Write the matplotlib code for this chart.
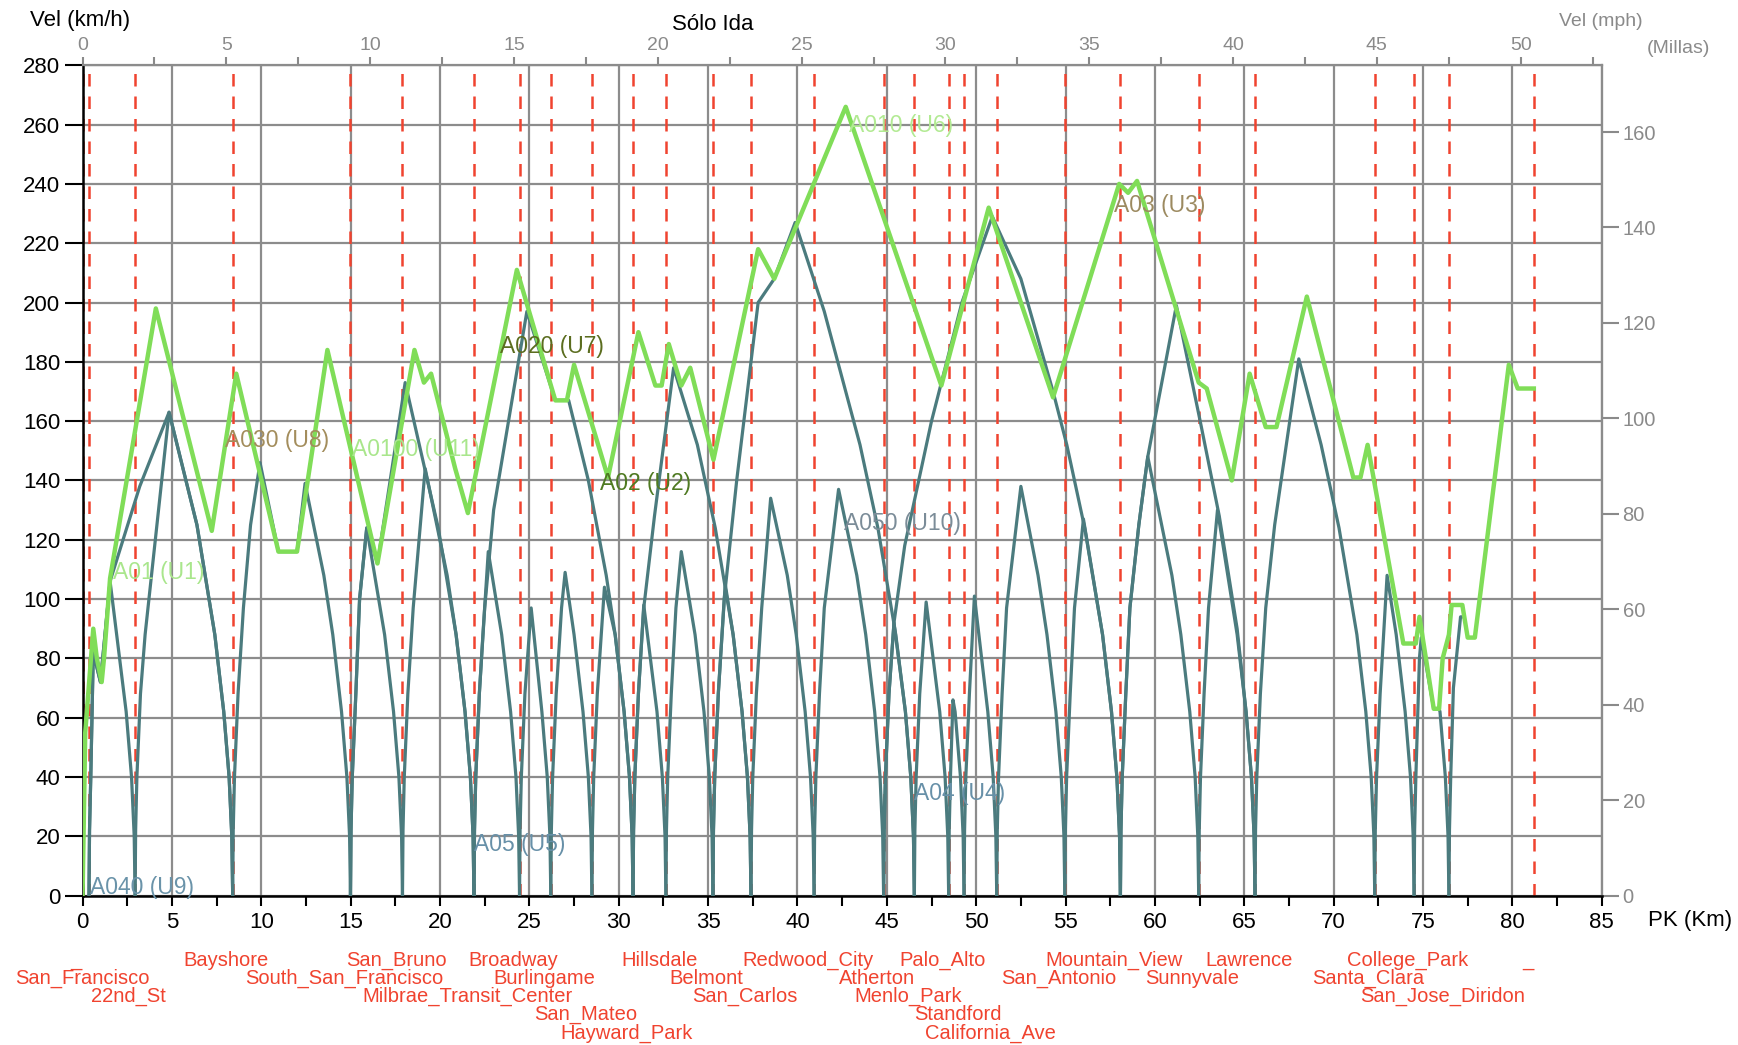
import matplotlib
matplotlib.use('Agg')
import matplotlib.pyplot as plt
from matplotlib.ticker import MultipleLocator, FixedLocator

plt.rcParams['font.family'] = ['Liberation Sans', 'DejaVu Sans']

# estaciones (PK en km) y fila de la etiqueta bajo el eje
station_names = ['_', 'San_Francisco', '22nd_St', 'Bayshore', 'South_San_Francisco', 'San_Bruno',
                 'Milbrae_Transit_Center', 'Broadway', 'Burlingame', 'San_Mateo', 'Hayward_Park',
                 'Hillsdale', 'Belmont', 'San_Carlos', 'Redwood_City', 'Atherton', 'Menlo_Park',
                 'Palo_Alto', 'Standford', 'California_Ave', 'San_Antonio', 'Mountain_View',
                 'Sunnyvale', 'Lawrence', 'Santa_Clara', 'College_Park', 'San_Jose_Diridon', '_']
station_km = [0.0, 0.36, 2.94, 8.40, 14.99, 17.90, 21.90, 24.45, 26.20, 28.50, 30.80, 32.64,
              35.27, 37.40, 40.93, 44.82, 46.54, 48.46, 49.32, 51.15, 54.96, 58.07, 62.45,
              65.60, 72.30, 74.50, 76.45, 81.20]
station_row = [0, 1, 2, 0, 1, 0, 2, 0, 1, 3, 4, 0, 1, 2, 0, 1, 2, 0, 3, 4, 1, 0, 1, 0, 1, 0, 2, 0]

# perfil de velocidad maxima (verde)
limit_km = [0.0, 0.15, 0.6, 0.8, 1.07, 1.2, 1.54, 4.1, 7.23, 8.6, 10.96, 12.0, 13.7, 16.5, 18.57,
            19.1, 19.5, 20.85, 21.56, 24.3, 26.45, 27.1, 27.5, 29.4, 31.1, 32.05, 32.4, 32.8,
            33.5, 34.0, 35.3, 37.8, 38.7, 42.7, 48.05, 50.7, 54.3, 58.0, 58.5, 59.0, 62.45,
            62.9, 64.3, 65.3, 66.2, 66.8, 68.5, 71.1, 71.5, 71.9, 73.9, 74.6, 74.8, 75.6,
            75.9, 76.1, 76.45, 76.6, 77.2, 77.5, 77.9, 79.8, 80.3, 81.2]
limit_v = [0, 55, 90, 80, 72, 80, 107, 198, 123, 176, 116, 116, 184, 112, 184,
           173, 176, 144, 129, 211, 167, 167, 179, 141, 190, 172, 172, 186,
           172, 178, 147, 218, 208, 266, 172, 232, 168, 240, 237, 241, 173,
           171, 140, 176, 158, 158, 202, 141, 141, 152, 85, 85, 94, 63,
           63, 80, 88, 98, 98, 87, 87, 179, 171, 171]

# recorridos entre paradas (azul verdoso): (PK km, km/h)
runs = [
    [(0.36, 0), (0.6, 82), (1.0, 72), (1.54, 106), (2.94, 0)],
    [(0.36, 0), (0.6, 82), (1.0, 72), (1.54, 106), (3.2, 138), (4.84, 163), (6.4, 125), (7.4, 88), (8.40, 0)],
    [(2.94, 0), (3.5, 88), (4.84, 163), (6.4, 125), (7.4, 88), (8.40, 0)],
    [(8.40, 0), (9.0, 97), (9.4, 125), (9.93, 146), (10.96, 116), (12.0, 116), (12.45, 139),
     (13.5, 108), (14.0, 88), (14.99, 0)],
    [(14.99, 0), (15.5, 100), (15.9, 124), (16.9, 88), (17.90, 0)],
    [(14.99, 0), (15.5, 100), (15.9, 124), (16.5, 112), (18.05, 173), (19.9, 124), (20.9, 88), (21.90, 0)],
    [(17.90, 0), (18.5, 97), (19.17, 144), (20.4, 108), (20.9, 88), (21.90, 0)],
    [(21.90, 0), (22.4, 88), (22.7, 116), (23.45, 88), (24.45, 0)],
    [(21.90, 0), (22.5, 97), (23.0, 130), (24.86, 197), (26.45, 167), (27.2, 167), (28.3, 140),
     (29.3, 108), (29.8, 88), (30.80, 0)],
    [(24.45, 0), (25.1, 97), (26.20, 0)],
    [(26.20, 0), (26.8, 97), (27.0, 109), (27.5, 88), (28.50, 0)],
    [(28.50, 0), (29.2, 104), (29.8, 88), (30.80, 0)],
    [(30.80, 0), (31.4, 98), (32.64, 0)],
    [(30.80, 0), (31.4, 97), (32.0, 128), (33.07, 178), (34.4, 152), (35.4, 124), (36.4, 88), (37.40, 0)],
    [(32.64, 0), (33.2, 97), (33.5, 116), (34.27, 88), (35.27, 0)],
    [(35.27, 0), (35.96, 105), (36.4, 88), (37.40, 0)],
    [(37.40, 0), (38.0, 97), (38.5, 134), (39.43, 108), (39.93, 88), (40.93, 0)],
    [(35.27, 0), (35.9, 100), (36.6, 140), (37.8, 200), (38.7, 208), (39.87, 227), (41.5, 197),
     (43.5, 152), (44.5, 124), (45.5, 88), (46.54, 0)],
    [(40.93, 0), (41.5, 97), (42.3, 137), (43.32, 108), (43.82, 88), (44.82, 0)],
    [(44.82, 0), (45.4, 92), (46.54, 0)],
    [(44.82, 0), (45.4, 92), (46.0, 118), (47.5, 160), (49.2, 200), (50.9, 229), (52.5, 208),
     (54.3, 170), (55.07, 152), (56.07, 124), (57.07, 88), (58.07, 0)],
    [(46.54, 0), (47.2, 99), (48.46, 0)],
    [(48.46, 0), (48.7, 66), (49.32, 0)],
    [(49.32, 0), (49.9, 101), (51.15, 0)],
    [(51.15, 0), (51.7, 97), (52.5, 138), (53.46, 108), (53.96, 88), (54.96, 0)],
    [(54.96, 0), (55.5, 97), (56.0, 127), (57.07, 88), (58.07, 0)],
    [(58.07, 0), (58.6, 97), (59.1, 125), (59.6, 148), (61.2, 199), (62.6, 158), (63.6, 128),
     (64.6, 90), (65.60, 0)],
    [(58.07, 0), (58.6, 97), (59.1, 125), (59.6, 148), (60.95, 108), (61.45, 88), (62.45, 0)],
    [(62.45, 0), (63.0, 97), (63.5, 130), (64.6, 88), (65.60, 0)],
    [(65.60, 0), (66.2, 97), (66.7, 125), (68.05, 181), (69.3, 152), (70.3, 124), (71.3, 88), (72.30, 0)],
    [(72.30, 0), (72.99, 108), (73.5, 88), (74.50, 0)],
    [(74.50, 0), (74.8, 80), (74.9, 87), (75.6, 63), (75.9, 63), (76.45, 0)],
    [(76.45, 0), (76.7, 70), (77.1, 94), (77.3, 94)],
]

# tramo casi vertical junto a cada parada (arranque / frenado)
ACC_KNEE = [(0.03, 22), (0.1, 40), (0.3, 68)]
BRK_KNEE = [(0.5, 62), (0.2, 40), (0.05, 20)]

# etiquetas de servicios: texto, PK, km/h, color
service_txt = ['A01 (U1)', 'A030 (U8)', 'A0100 (U11)', 'A020 (U7)', 'A02 (U2)', 'A05 (U5)',
               'A040 (U9)', 'A010 (U6)', 'A050 (U10)', 'A04 (U4)', 'A03 (U3)']
service_km = [1.73, 7.98, 15.06, 23.37, 28.96, 21.88, 0.42, 42.87, 42.58, 46.5, 57.7]
service_v = [109, 153.6, 150.3, 185.2, 139, 17.2, 2.7, 259.8, 125.6, 34.3, 232.7]
service_col = ['#a9e68c', '#a38d5c', '#a9e68c', '#5b6d1f', '#4f7a22', '#6790a8',
               '#6a93a9', '#b2ea93', '#7b8c98', '#6790a8', '#9c8a60']

mph_ticks = [0, 5, 10, 15, 20, 25, 30, 35, 40, 45, 50]
mph_minor = [2.5, 7.5, 12.5, 17.5, 22.5, 27.5, 32.5, 37.5, 42.5, 47.5, 52.5]
mph_speed_ticks = [0, 20, 40, 60, 80, 100, 120, 140, 160]

KMH_PER_MPH = 1.609344


def with_knees(run):
    pts = list(run)
    s, e = pts[0][0], pts[-1][0]
    head = [(s + dx, v) for dx, v in ACC_KNEE if s + dx < pts[1][0] and v < pts[1][1]]
    if pts[-1][1] == 0:
        tail = [(e - dx, v) for dx, v in BRK_KNEE if e - dx > pts[-2][0] and v < pts[-2][1]]
        return [pts[0]] + head + pts[1:-1] + tail + [pts[-1]]
    return [pts[0]] + head + pts[1:]


fig = plt.figure(figsize=(17.38, 10.45), dpi=100)
ax = fig.add_axes([0.0475, 0.143, 0.8741, 0.7945])
ax.set_xlim(0, 85)
ax.set_ylim(0, 280)

ax.xaxis.set_major_locator(MultipleLocator(5))
ax.xaxis.set_minor_locator(MultipleLocator(2.5))
ax.yaxis.set_major_locator(MultipleLocator(20))
ax.grid(True, which='major', color='#8c8c8c', lw=1.6)
ax.set_axisbelow(True)

ax.tick_params(axis='y', which='major', direction='out', length=13, width=1.5, labelsize=16, pad=3)
ax.tick_params(axis='x', which='both', direction='out', length=7, width=1.5, labelsize=16, pad=5)
for side in ['left', 'bottom']:
    ax.spines[side].set_color('black')
    ax.spines[side].set_linewidth(1.8)
for side in ['top', 'right']:
    ax.spines[side].set_color('#8c8c8c')
    ax.spines[side].set_linewidth(1.6)

# estaciones
for km in station_km:
    ax.axvline(km, color='#f0432f', lw=1.8, dashes=(5, 4), zorder=2)

# recorridos
for run in runs:
    pts = with_knees(run)
    ax.plot([p[0] for p in pts], [p[1] for p in pts], color='#4b7b7e', lw=2.3, zorder=3,
            solid_joinstyle='round')

# limite de velocidad
ax.plot(limit_km, limit_v, color='#80dd58', lw=3.2, zorder=4)

for txt, km, v, col in zip(service_txt, service_km, service_v, service_col):
    ax.text(km, v, txt, color=col, fontsize=16.5, ha='left', va='center', zorder=5)

# eje superior en millas, eje derecho en mph
top = ax.secondary_xaxis('top', functions=(lambda k: k / KMH_PER_MPH, lambda m: m * KMH_PER_MPH))
top.xaxis.set_major_locator(FixedLocator(mph_ticks))
top.xaxis.set_minor_locator(FixedLocator(mph_minor))
top.tick_params(which='both', direction='out', length=6, width=1.5, colors='#8a8a8a',
                labelsize=14, pad=2)
top.spines['top'].set_color('#8c8c8c')

right = ax.secondary_yaxis('right', functions=(lambda v: v / KMH_PER_MPH, lambda m: m * KMH_PER_MPH))
right.yaxis.set_major_locator(FixedLocator(mph_speed_ticks))
right.tick_params(which='major', direction='out', length=12, width=1.5, colors='#8a8a8a',
                  labelsize=14.5, pad=3)
right.spines['right'].set_color('#8c8c8c')

# nombres de estaciones bajo el eje
ROW_Y0, ROW_STEP = 0.0813, 0.0175
for name, km, row in zip(station_names, station_km, station_row):
    ax.annotate(name, xy=(km, ROW_Y0 - row * ROW_STEP), xycoords=('data', 'figure fraction'),
                xytext=(-4.5, 0), textcoords='offset points', ha='center', va='center',
                color='#f0432f', fontsize=14.5, annotation_clip=False)

fig.text(0.0173, 0.980, 'Vel (km/h)', fontsize=16, ha='left', va='center')
fig.text(0.41, 0.977, 'Sólo Ida', fontsize=16, ha='center', va='center')
fig.text(0.945, 0.979, 'Vel (mph)', fontsize=14, ha='right', va='center', color='#8a8a8a')
fig.text(0.984, 0.954, '(Millas)', fontsize=14, ha='right', va='center', color='#8a8a8a')
fig.text(0.9482, 0.1187, 'PK (Km)', fontsize=16, ha='left', va='center')

fig.savefig('out.png', dpi=100)
